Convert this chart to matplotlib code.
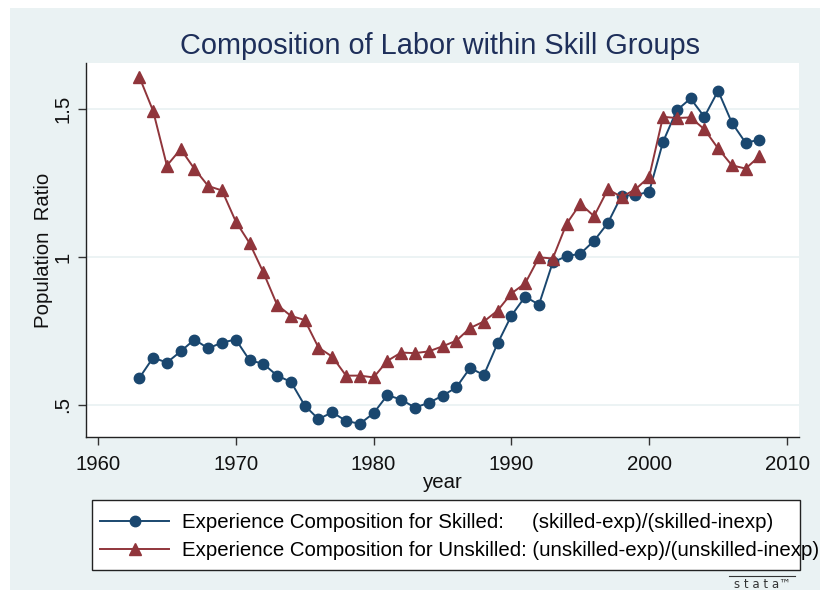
import matplotlib
matplotlib.use("Agg")
import matplotlib.pyplot as plt
from matplotlib.patches import Rectangle
from matplotlib.lines import Line2D

plt.rcParams['font.family'] = ['Liberation Sans', 'DejaVu Sans']

years = list(range(1963, 2009))
skilled = [0.591, 0.660, 0.643, 0.681, 0.721, 0.691, 0.711, 0.721, 0.651, 0.639,
           0.599, 0.578, 0.498, 0.452, 0.475, 0.446, 0.436, 0.472, 0.533, 0.518,
           0.491, 0.507, 0.531, 0.559, 0.625, 0.601, 0.708, 0.802, 0.866, 0.839,
           0.982, 1.003, 1.011, 1.055, 1.115, 1.208, 1.209, 1.221, 1.389, 1.496,
           1.536, 1.474, 1.562, 1.454, 1.386, 1.397]
unskilled = [1.609, 1.494, 1.309, 1.365, 1.298, 1.240, 1.225, 1.120, 1.047, 0.948,
             0.838, 0.801, 0.787, 0.694, 0.663, 0.599, 0.599, 0.593, 0.649, 0.677,
             0.675, 0.681, 0.698, 0.717, 0.760, 0.782, 0.819, 0.877, 0.911, 0.999,
             0.995, 1.112, 1.180, 1.138, 1.229, 1.203, 1.229, 1.271, 1.474, 1.470,
             1.472, 1.432, 1.367, 1.310, 1.299, 1.341]
xticks = [1960, 1970, 1980, 1990, 2000, 2010]
yticks = [0.5, 1.0, 1.5]
ytick_labels = ['.5', '1', '1.5']
title = "Composition of Labor within Skill Groups"
label_skilled = "Experience Composition for Skilled:     (skilled-exp)/(skilled-inexp)"
label_unskilled = "Experience Composition for Unskilled: (unskilled-exp)/(unskilled-inexp)"

BG = '#EAF2F3'
BLUE = '#1A476F'
RED = '#90353B'
W, H = 825, 590
FS = 14.7

fig = plt.figure(figsize=(8.25, 5.9), dpi=100)
fig.patch.set_facecolor('white')
fig.patches.append(Rectangle((10 / W, 0), (820 - 10) / W, (590 - 8) / H,
                             transform=fig.transFigure, facecolor=BG,
                             edgecolor='none', zorder=-10))

ax = fig.add_axes([86 / W, 1 - 437 / H, (799 - 86) / W, (437 - 63) / H])
ax.set_facecolor('white')
ax.plot(years, skilled, color=BLUE, marker='o', markersize=7.5, linewidth=1.4,
        markeredgecolor=BLUE, zorder=3)
ax.plot(years, unskilled, color=RED, marker='^', markersize=8.5, linewidth=1.4,
        markeredgecolor=RED, zorder=3)

ax.set_xlim(1959.13, 2010.87)
ax.set_ylim(0.3915, 1.656)
ax.set_xticks(xticks)
ax.set_yticks(yticks)
ax.set_yticklabels(ytick_labels, rotation=90, va='center')
ax.tick_params(axis='both', labelsize=FS, color='#333333', labelcolor='#111111',
               length=6, width=1, pad=4)
ax.tick_params(axis='x', pad=7)
ax.grid(axis='y', color=BG, linewidth=1.3, zorder=0)
for s in ['top', 'right']:
    ax.spines[s].set_visible(False)
for s in ['left', 'bottom']:
    ax.spines[s].set_color('#222222')
    ax.spines[s].set_linewidth(1.0)

ax.set_xlabel('year', fontsize=FS, color='#111111', labelpad=-1)
ax.set_ylabel('Population  Ratio', fontsize=FS, color='#111111', labelpad=0)

fig.text(440 / W, 1 - 46 / H, title, ha='center', va='center', fontsize=20.8,
         color='#1E2F5A')

# legend box
fig.patches.append(Rectangle((92 / W, 1 - 570 / H), (800 - 92) / W, (570 - 500) / H,
                             transform=fig.transFigure, facecolor='white',
                             edgecolor='#222222', linewidth=1.0, zorder=1))
handles = [Line2D([], [], color=BLUE, marker='o', markersize=7.5, linewidth=1.4),
           Line2D([], [], color=RED, marker='^', markersize=8.5, linewidth=1.4)]
leg = fig.legend(handles, [label_skilled, label_unskilled], loc='upper left',
                 bbox_to_anchor=(100 / W, 1 - 513 / H), frameon=False,
                 fontsize=FS, handlelength=3.4, handletextpad=0.6,
                 labelspacing=0.45, borderpad=0, borderaxespad=0)
leg.set_zorder(5)

# stata logo
fig.text(762 / W, 1 - 584 / H, 's t a t a\u2122', ha='center', va='center',
         fontsize=8.5, color='#333333', family=['DejaVu Sans'])
fig.lines.append(Line2D([729 / W, 795 / W], [1 - 576 / H, 1 - 576 / H],
                        transform=fig.transFigure, color='#333333', linewidth=0.8))

fig.savefig('out.png', dpi=100, facecolor=fig.get_facecolor())
